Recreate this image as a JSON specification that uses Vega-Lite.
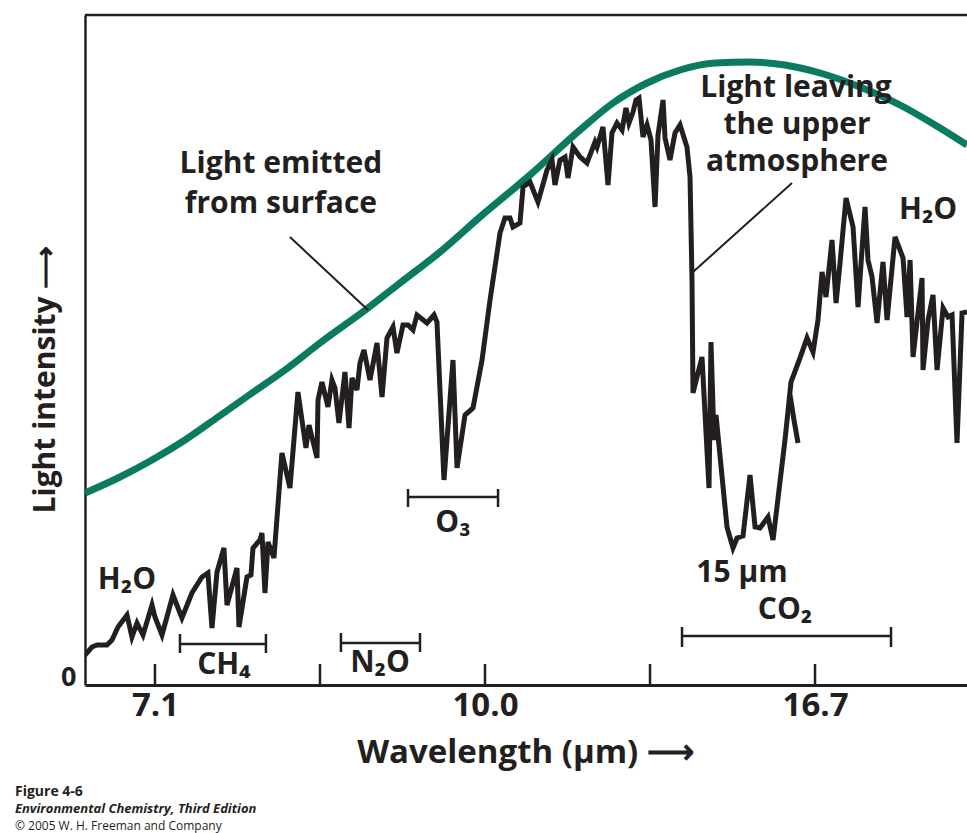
{
  "$schema": "https://vega.github.io/schema/vega-lite/v6.json",
  "width": 882,
  "height": 670,
  "autosize": {"type": "none"},
  "padding": {"left": 85, "top": 15, "right": 0, "bottom": 148},
  "background": "#ffffff",
  "config": {"view": {"stroke": null}, "font": "Open Sans"},
  "datasets": {
    "surface": [
      {"w": 1484.8, "v": 192}, {"w": 1444.8, "v": 207}, {"w": 1403.6, "v": 225}, {"w": 1363.6, "v": 245},
      {"w": 1323.6, "v": 268}, {"w": 1282.4, "v": 292}, {"w": 1242.4, "v": 315}, {"w": 1200.0, "v": 342},
      {"w": 1141.8, "v": 377}, {"w": 1103.0, "v": 402}, {"w": 1054.5, "v": 433}, {"w": 1006.1, "v": 468},
      {"w": 945.5, "v": 510}, {"w": 884.8, "v": 555}, {"w": 844.8, "v": 582}, {"w": 803.6, "v": 602},
      {"w": 763.6, "v": 615}, {"w": 721.2, "v": 622}, {"w": 678.8, "v": 623}, {"w": 636.4, "v": 620},
      {"w": 593.9, "v": 612}, {"w": 545.5, "v": 598}, {"w": 497.0, "v": 580}, {"w": 454.5, "v": 560},
      {"w": 415.8, "v": 540}
    ],
    "spectrum": [
      {"i": 1, "seg": "a", "w": 1484.8, "v": 30}, {"i": 2, "seg": "a", "w": 1476.4, "v": 38}, {"i": 3, "seg": "a", "w": 1470.3, "v": 40},
      {"i": 4, "seg": "a", "w": 1458.2, "v": 40}, {"i": 5, "seg": "a", "w": 1452.1, "v": 45}, {"i": 6, "seg": "a", "w": 1444.8, "v": 58},
      {"i": 7, "seg": "a", "w": 1433.9, "v": 70}, {"i": 8, "seg": "a", "w": 1427.9, "v": 48}, {"i": 9, "seg": "a", "w": 1421.8, "v": 62},
      {"i": 10, "seg": "a", "w": 1414.5, "v": 50}, {"i": 11, "seg": "a", "w": 1403.6, "v": 80}, {"i": 12, "seg": "a", "w": 1400.0, "v": 68},
      {"i": 13, "seg": "a", "w": 1391.5, "v": 50}, {"i": 14, "seg": "a", "w": 1378.2, "v": 90}, {"i": 15, "seg": "a", "w": 1367.3, "v": 67},
      {"i": 16, "seg": "a", "w": 1355.2, "v": 92}, {"i": 17, "seg": "a", "w": 1343.0, "v": 108}, {"i": 18, "seg": "a", "w": 1335.8, "v": 112},
      {"i": 19, "seg": "a", "w": 1330.9, "v": 57}, {"i": 20, "seg": "a", "w": 1324.8, "v": 113}, {"i": 21, "seg": "a", "w": 1316.4, "v": 137},
      {"i": 22, "seg": "a", "w": 1312.7, "v": 80}, {"i": 23, "seg": "a", "w": 1300.6, "v": 117}, {"i": 24, "seg": "a", "w": 1298.2, "v": 58},
      {"i": 25, "seg": "a", "w": 1288.5, "v": 108}, {"i": 26, "seg": "a", "w": 1283.6, "v": 110}, {"i": 27, "seg": "a", "w": 1281.2, "v": 137},
      {"i": 28, "seg": "a", "w": 1272.7, "v": 145}, {"i": 29, "seg": "a", "w": 1270.3, "v": 152}, {"i": 30, "seg": "a", "w": 1266.7, "v": 92},
      {"i": 31, "seg": "a", "w": 1263.0, "v": 143}, {"i": 32, "seg": "a", "w": 1255.8, "v": 127}, {"i": 33, "seg": "a", "w": 1246.1, "v": 232},
      {"i": 34, "seg": "a", "w": 1236.4, "v": 197}, {"i": 35, "seg": "a", "w": 1226.7, "v": 293}, {"i": 36, "seg": "a", "w": 1217.0, "v": 237},
      {"i": 37, "seg": "a", "w": 1213.3, "v": 260}, {"i": 38, "seg": "a", "w": 1203.6, "v": 227}, {"i": 39, "seg": "a", "w": 1202.4, "v": 285},
      {"i": 40, "seg": "a", "w": 1197.6, "v": 303}, {"i": 41, "seg": "a", "w": 1190.3, "v": 278}, {"i": 42, "seg": "a", "w": 1185.5, "v": 305},
      {"i": 43, "seg": "a", "w": 1181.8, "v": 297}, {"i": 44, "seg": "a", "w": 1177.0, "v": 262}, {"i": 45, "seg": "a", "w": 1169.7, "v": 313},
      {"i": 46, "seg": "a", "w": 1164.8, "v": 257}, {"i": 47, "seg": "a", "w": 1161.2, "v": 307}, {"i": 48, "seg": "a", "w": 1155.2, "v": 295},
      {"i": 49, "seg": "a", "w": 1151.5, "v": 322}, {"i": 50, "seg": "a", "w": 1146.7, "v": 335}, {"i": 51, "seg": "a", "w": 1139.4, "v": 305},
      {"i": 52, "seg": "a", "w": 1130.9, "v": 342}, {"i": 53, "seg": "a", "w": 1124.8, "v": 288}, {"i": 54, "seg": "a", "w": 1118.8, "v": 347},
      {"i": 55, "seg": "a", "w": 1111.5, "v": 358}, {"i": 56, "seg": "a", "w": 1106.7, "v": 332}, {"i": 57, "seg": "a", "w": 1099.4, "v": 360},
      {"i": 58, "seg": "a", "w": 1093.3, "v": 360}, {"i": 59, "seg": "a", "w": 1087.3, "v": 355}, {"i": 60, "seg": "a", "w": 1082.4, "v": 370},
      {"i": 61, "seg": "a", "w": 1070.3, "v": 362}, {"i": 62, "seg": "a", "w": 1061.8, "v": 370}, {"i": 63, "seg": "a", "w": 1058.2, "v": 363},
      {"i": 64, "seg": "a", "w": 1049.7, "v": 205}, {"i": 65, "seg": "a", "w": 1038.8, "v": 325}, {"i": 66, "seg": "a", "w": 1033.9, "v": 217},
      {"i": 67, "seg": "a", "w": 1024.2, "v": 270}, {"i": 68, "seg": "a", "w": 1014.5, "v": 277}, {"i": 69, "seg": "a", "w": 1003.6, "v": 325},
      {"i": 70, "seg": "a", "w": 993.9, "v": 385}, {"i": 71, "seg": "a", "w": 981.8, "v": 452}, {"i": 72, "seg": "a", "w": 975.8, "v": 467},
      {"i": 73, "seg": "a", "w": 969.7, "v": 467}, {"i": 74, "seg": "a", "w": 966.1, "v": 458}, {"i": 75, "seg": "a", "w": 957.6, "v": 462},
      {"i": 76, "seg": "a", "w": 953.9, "v": 498}, {"i": 77, "seg": "a", "w": 945.5, "v": 503}, {"i": 78, "seg": "a", "w": 935.8, "v": 483},
      {"i": 79, "seg": "a", "w": 924.8, "v": 515}, {"i": 80, "seg": "a", "w": 918.8, "v": 525}, {"i": 81, "seg": "a", "w": 915.2, "v": 500},
      {"i": 82, "seg": "a", "w": 909.1, "v": 525}, {"i": 83, "seg": "a", "w": 903.0, "v": 528}, {"i": 84, "seg": "a", "w": 899.4, "v": 507},
      {"i": 85, "seg": "a", "w": 893.3, "v": 538}, {"i": 86, "seg": "a", "w": 884.8, "v": 528}, {"i": 87, "seg": "a", "w": 876.4, "v": 522},
      {"i": 88, "seg": "a", "w": 866.7, "v": 543}, {"i": 89, "seg": "a", "w": 864.2, "v": 538}, {"i": 90, "seg": "a", "w": 857.0, "v": 558},
      {"i": 91, "seg": "a", "w": 850.9, "v": 500}, {"i": 92, "seg": "a", "w": 846.1, "v": 552}, {"i": 93, "seg": "a", "w": 840.0, "v": 562},
      {"i": 94, "seg": "a", "w": 833.9, "v": 555}, {"i": 95, "seg": "a", "w": 829.1, "v": 577}, {"i": 96, "seg": "a", "w": 825.5, "v": 562},
      {"i": 97, "seg": "a", "w": 820.6, "v": 573}, {"i": 98, "seg": "a", "w": 817.0, "v": 585}, {"i": 99, "seg": "a", "w": 813.3, "v": 587},
      {"i": 100, "seg": "a", "w": 808.5, "v": 548}, {"i": 101, "seg": "a", "w": 803.6, "v": 560}, {"i": 102, "seg": "a", "w": 798.8, "v": 545},
      {"i": 103, "seg": "a", "w": 793.9, "v": 478}, {"i": 104, "seg": "a", "w": 790.3, "v": 550}, {"i": 105, "seg": "a", "w": 784.2, "v": 585},
      {"i": 106, "seg": "a", "w": 781.8, "v": 547}, {"i": 107, "seg": "a", "w": 775.8, "v": 525}, {"i": 108, "seg": "a", "w": 769.7, "v": 552},
      {"i": 109, "seg": "a", "w": 763.6, "v": 560}, {"i": 110, "seg": "a", "w": 755.2, "v": 538}, {"i": 111, "seg": "a", "w": 751.5, "v": 508},
      {"i": 112, "seg": "a", "w": 749.1, "v": 405}, {"i": 113, "seg": "a", "w": 747.9, "v": 292}, {"i": 114, "seg": "a", "w": 737.0, "v": 328},
      {"i": 115, "seg": "a", "w": 728.5, "v": 197}, {"i": 116, "seg": "a", "w": 726.1, "v": 343}, {"i": 117, "seg": "a", "w": 722.4, "v": 245},
      {"i": 118, "seg": "a", "w": 720.0, "v": 270}, {"i": 119, "seg": "a", "w": 706.7, "v": 158}, {"i": 120, "seg": "a", "w": 699.4, "v": 137},
      {"i": 121, "seg": "a", "w": 694.5, "v": 147}, {"i": 122, "seg": "a", "w": 687.3, "v": 149}, {"i": 123, "seg": "a", "w": 678.8, "v": 210},
      {"i": 124, "seg": "a", "w": 672.7, "v": 158}, {"i": 125, "seg": "a", "w": 666.7, "v": 157}, {"i": 126, "seg": "a", "w": 657.0, "v": 168},
      {"i": 127, "seg": "a", "w": 650.9, "v": 145}, {"i": 128, "seg": "a", "w": 636.4, "v": 245}, {"i": 129, "seg": "a", "w": 629.1, "v": 303},
      {"i": 130, "seg": "a", "w": 618.2, "v": 327}, {"i": 131, "seg": "a", "w": 609.7, "v": 347}, {"i": 132, "seg": "a", "w": 602.4, "v": 333},
      {"i": 133, "seg": "a", "w": 596.4, "v": 365}, {"i": 134, "seg": "a", "w": 591.5, "v": 413}, {"i": 135, "seg": "a", "w": 586.7, "v": 388},
      {"i": 136, "seg": "a", "w": 579.4, "v": 445}, {"i": 137, "seg": "a", "w": 574.5, "v": 382}, {"i": 138, "seg": "a", "w": 569.7, "v": 422},
      {"i": 139, "seg": "a", "w": 562.4, "v": 487}, {"i": 140, "seg": "a", "w": 553.9, "v": 458}, {"i": 141, "seg": "a", "w": 547.9, "v": 378},
      {"i": 142, "seg": "a", "w": 539.4, "v": 478}, {"i": 143, "seg": "a", "w": 535.8, "v": 425}, {"i": 144, "seg": "a", "w": 530.9, "v": 408},
      {"i": 145, "seg": "a", "w": 524.8, "v": 362}, {"i": 146, "seg": "a", "w": 517.6, "v": 423}, {"i": 147, "seg": "a", "w": 512.7, "v": 365},
      {"i": 148, "seg": "a", "w": 503.0, "v": 448}, {"i": 149, "seg": "a", "w": 493.3, "v": 427}, {"i": 150, "seg": "a", "w": 488.5, "v": 368},
      {"i": 151, "seg": "a", "w": 484.8, "v": 425}, {"i": 152, "seg": "a", "w": 481.2, "v": 328}, {"i": 153, "seg": "a", "w": 470.3, "v": 407},
      {"i": 154, "seg": "a", "w": 469.1, "v": 315}, {"i": 155, "seg": "a", "w": 463.0, "v": 365}, {"i": 156, "seg": "a", "w": 457.0, "v": 390},
      {"i": 157, "seg": "a", "w": 452.1, "v": 315}, {"i": 158, "seg": "a", "w": 444.8, "v": 377}, {"i": 159, "seg": "a", "w": 438.8, "v": 368},
      {"i": 160, "seg": "a", "w": 433.9, "v": 370}, {"i": 161, "seg": "a", "w": 427.9, "v": 242}, {"i": 162, "seg": "a", "w": 421.8, "v": 372},
      {"i": 163, "seg": "a", "w": 415.8, "v": 373},
      {"i": 164, "seg": "b", "w": 630.3, "v": 290}, {"i": 165, "seg": "b", "w": 625.5, "v": 265}, {"i": 166, "seg": "b", "w": 620.6, "v": 242}
    ],
    "ticks": [{"w": 1400}, {"w": 1200}, {"w": 1000}, {"w": 800}, {"w": 600}],
    "border": [{"v": 670}],
    "brackets": [
      {"w1": 1093.3, "w2": 984.2, "v1": 188, "v2": 188},
      {"w1": 1093.3, "w2": 1093.3, "v1": 178, "v2": 196},
      {"w1": 984.2, "w2": 984.2, "v1": 178, "v2": 196},
      {"w1": 1369.7, "w2": 1265.5, "v1": 41, "v2": 41},
      {"w1": 1369.7, "w2": 1369.7, "v1": 32, "v2": 51},
      {"w1": 1265.5, "w2": 1265.5, "v1": 32, "v2": 51},
      {"w1": 1174.6, "w2": 1078.8, "v1": 42, "v2": 42},
      {"w1": 1174.6, "w2": 1174.6, "v1": 33, "v2": 52},
      {"w1": 1078.8, "w2": 1078.8, "v1": 33, "v2": 52},
      {"w1": 761.2, "w2": 507.9, "v1": 49, "v2": 49},
      {"w1": 761.2, "w2": 761.2, "v1": 38, "v2": 58},
      {"w1": 507.9, "w2": 507.9, "v1": 38, "v2": 58}
    ],
    "pointers": [
      {"w1": 1236.4, "w2": 1141.8, "v1": 448, "v2": 375},
      {"w1": 627.9, "w2": 747.9, "v1": 502, "v2": 413}
    ],
    "labels": [
      {"w": 1247.3, "v": 521, "text": "Light emitted"},
      {"w": 1247.3, "v": 481, "text": "from surface"},
      {"w": 623.0, "v": 597, "text": "Light leaving"},
      {"w": 621.8, "v": 560, "text": "the upper"},
      {"w": 621.8, "v": 523, "text": "atmosphere"},
      {"w": 1434.0, "v": 105, "text": "H₂O"},
      {"w": 1316.4, "v": 20, "text": "CH₄"},
      {"w": 1127.3, "v": 22, "text": "N₂O"},
      {"w": 1038.8, "v": 162, "text": "O₃"},
      {"w": 688.5, "v": 112, "text": "15 μm"},
      {"w": 636.4, "v": 75, "text": "CO₂"},
      {"w": 463.0, "v": 475, "text": "H₂O"}
    ],
    "cap1": [{"w": 1569.7, "v": -107, "text": "Figure 4-6"}],
    "cap2": [{"w": 1569.7, "v": -124, "text": "Environmental Chemistry, Third Edition"}],
    "cap3": [{"w": 1569.7, "v": -141, "text": "© 2005 W. H. Freeman and Company"}]
  },
  "layer": [
    {
      "data": {"name": "surface"},
      "mark": {"type": "line", "color": "#0a7a60", "strokeWidth": 7, "interpolate": "monotone", "clip": true},
      "encoding": {
        "x": {
          "field": "w", "type": "quantitative",
          "scale": {"domain": [415.8, 1484.8], "reverse": true, "nice": false, "zero": false},
          "axis": {
            "title": "Wavelength (μm) ⟶", "values": [1400, 1000, 600],
            "labelExpr": "datum.value == 1400 ? '7.1' : datum.value == 1000 ? '10.0' : datum.value == 600 ? '16.7' : ''",
            "grid": false, "ticks": false, "domainColor": "#231f20", "domainWidth": 3,
            "labelFont": "Open Sans", "labelFontSize": 33, "labelFontWeight": "bold", "labelColor": "#231f20",
            "labelBaseline": "middle", "labelPadding": 20, "labelFlush": false,
            "titleFont": "Open Sans", "titleFontSize": 33, "titleFontWeight": "bold", "titleColor": "#231f20",
            "titleX": 440, "titleY": 67, "titleBaseline": "middle", "titleAlign": "center"
          }
        },
        "y": {
          "field": "v", "type": "quantitative",
          "scale": {"domain": [0, 670], "nice": false, "zero": false},
          "axis": {
            "title": "Light intensity ⟶", "values": [0], "labelExpr": "'0'",
            "grid": false, "ticks": false, "domainColor": "#231f20", "domainWidth": 2.5,
            "labelFont": "Open Sans", "labelFontSize": 27, "labelFontWeight": "bold", "labelColor": "#231f20",
            "labelBaseline": "alphabetic", "labelPadding": 9, "labelFlush": false,
            "titleFont": "Open Sans", "titleFontSize": 30, "titleFontWeight": "bold", "titleColor": "#231f20",
            "titleX": -40, "titleY": 364, "titleAngle": -90, "titleBaseline": "middle", "titleAlign": "center"
          }
        }
      }
    },
    {
      "data": {"name": "spectrum"},
      "mark": {"type": "line", "color": "#231f20", "strokeWidth": 5, "clip": true},
      "encoding": {
        "x": {"field": "w", "type": "quantitative"},
        "y": {"field": "v", "type": "quantitative"},
        "detail": {"field": "seg", "type": "nominal"},
        "order": {"field": "i", "type": "quantitative"}
      }
    },
    {
      "data": {"name": "ticks"},
      "mark": {"type": "rule", "color": "#231f20", "strokeWidth": 2.5},
      "encoding": {
        "x": {"field": "w", "type": "quantitative"},
        "y": {"datum": 0},
        "y2": {"datum": 21}
      }
    },
    {
      "data": {"name": "brackets"},
      "mark": {"type": "rule", "color": "#231f20", "strokeWidth": 2.5},
      "encoding": {
        "x": {"field": "w1", "type": "quantitative"},
        "x2": {"field": "w2"},
        "y": {"field": "v1", "type": "quantitative"},
        "y2": {"field": "v2"}
      }
    },
    {
      "data": {"name": "pointers"},
      "mark": {"type": "rule", "color": "#231f20", "strokeWidth": 2},
      "encoding": {
        "x": {"field": "w1", "type": "quantitative"},
        "x2": {"field": "w2"},
        "y": {"field": "v1", "type": "quantitative"},
        "y2": {"field": "v2"}
      }
    },
    {
      "data": {"name": "labels"},
      "mark": {"type": "text", "font": "Open Sans", "fontSize": 30, "fontWeight": "bold", "color": "#231f20", "align": "center", "baseline": "middle"},
      "encoding": {
        "x": {"field": "w", "type": "quantitative"},
        "y": {"field": "v", "type": "quantitative"},
        "text": {"field": "text"}
      }
    },
    {
      "data": {"name": "cap1"},
      "mark": {"type": "text", "font": "Open Sans", "fontSize": 14, "fontWeight": "bold", "color": "#231f20", "align": "left", "baseline": "middle"},
      "encoding": {
        "x": {"field": "w", "type": "quantitative"},
        "y": {"field": "v", "type": "quantitative"},
        "text": {"field": "text"}
      }
    },
    {
      "data": {"name": "cap2"},
      "mark": {"type": "text", "font": "Open Sans", "fontSize": 13, "fontWeight": "bold", "fontStyle": "italic", "color": "#231f20", "align": "left", "baseline": "middle"},
      "encoding": {
        "x": {"field": "w", "type": "quantitative"},
        "y": {"field": "v", "type": "quantitative"},
        "text": {"field": "text"}
      }
    },
    {
      "data": {"name": "cap3"},
      "mark": {"type": "text", "font": "Open Sans", "fontSize": 12, "color": "#231f20", "align": "left", "baseline": "middle"},
      "encoding": {
        "x": {"field": "w", "type": "quantitative"},
        "y": {"field": "v", "type": "quantitative"},
        "text": {"field": "text"}
      }
    },
    {
      "data": {"name": "border"},
      "mark": {"type": "rule", "color": "#231f20", "strokeWidth": 2.5},
      "encoding": {"y": {"field": "v", "type": "quantitative"}}
    }
  ]
}
